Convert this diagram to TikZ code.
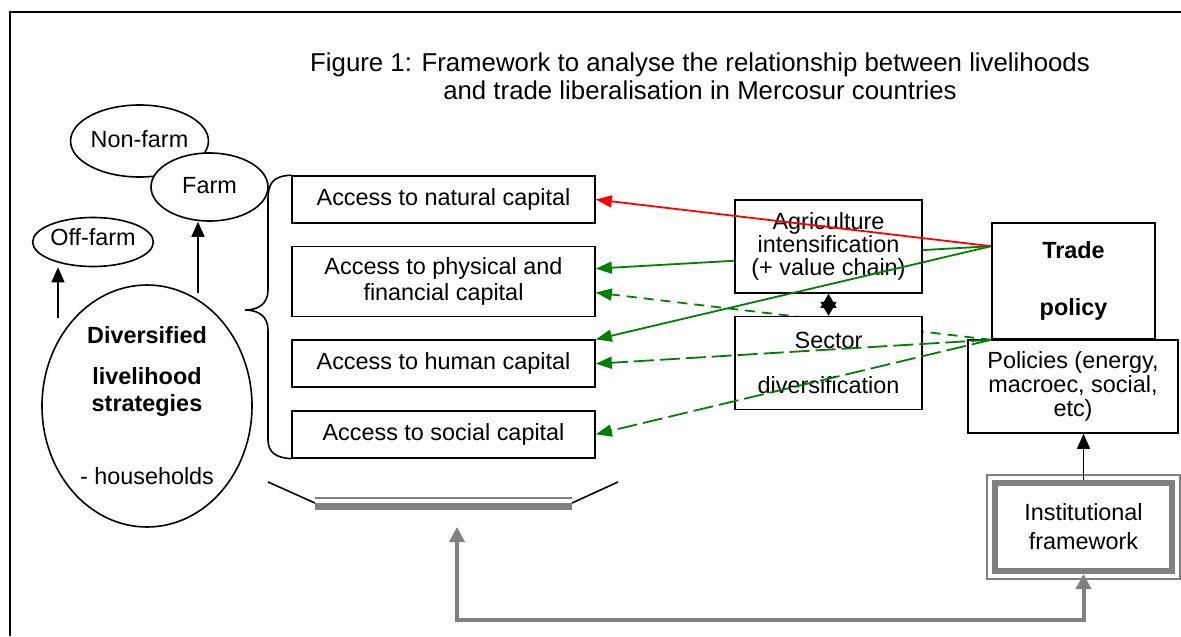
\documentclass[tikz,border=0pt]{standalone}
\usepackage{fontspec}
\setmainfont{Liberation Sans}
\usetikzlibrary{arrows.meta}
\usetikzlibrary{positioning}
\usetikzlibrary{shapes.geometric}
\usetikzlibrary{backgrounds}
\definecolor{leafgreen}{RGB}{0,128,0}
\definecolor{framegray}{RGB}{128,128,128}
\tikzset{x = 0.5pt, y = -0.5pt, font = \fontsize{11.7}{13}\selectfont,
  capbox/.style = {draw, line width = 0.8pt, fill = white, align = center,
    minimum width = 151.5pt, minimum height = 23.5pt, inner sep = 2pt},
  midbox/.style = {draw, line width = 0.8pt, fill = white, align = center,
    minimum width = 93.5pt, minimum height = 46.5pt, inner sep = 2pt},
  blob/.style = {ellipse, draw, line width = 0.8pt, fill = white, inner sep = 0pt},
  blk/.style = {line width = 0.8pt, -{Triangle[length = 7.5pt, width = 6.5pt]}},
  grn/.style = {leafgreen, line width = 0.9pt, -{Triangle[length = 8pt, width = 6pt]}},
  gry/.style = {framegray, line width = 2pt,
    {Triangle[length = 7.5pt, width = 7.5pt]}-{Triangle[length = 7.5pt, width = 7.5pt]}}}

\begin{document}
\begin{tikzpicture}
    \useasboundingbox (0,0) rectangle (1181,636);
    \draw [line width = 1pt] (10,636) -- (10,12) -- (1181,12);
    \node [align = center, font = \fontsize{12.9}{14}\selectfont] (title) at (700,76) {Figure 1: Framework to analyse the relationship between livelihoods\\and trade liberalisation in Mercosur countries};
    % livelihoods
    \node [blob, minimum width = 57.5pt, minimum height = 36pt] (nonf) at (139.5,141) {\raisebox{2pt}{Non-farm}};
    \node [blob, minimum width = 58.5pt, minimum height = 34pt] (farm) at (209.5,187) {\raisebox{2pt}{Farm}};
    \node [blob, minimum width = 58.5pt, minimum height = 24.5pt] (offf) at (93,242) {\raisebox{5pt}{Off-farm}};
    \node [blob, align = center, minimum width = 105pt, minimum height = 121pt] (divs) at (147,406)
      {\textbf{Diversified}\\[7.5pt]\textbf{livelihood}\\[0.5pt]\textbf{strategies}\\[23.5pt]- households};
    % capitals
    \node [capbox] (cnat) at (443.5,199.5) {Access to natural capital};
    \node [capbox, below = 11pt of cnat, minimum height = 35pt] (cphy) {Access to physical and\\financial capital};
    \node [capbox, below = 11pt of cphy] (chum) {Access to human capital};
    \node [capbox, below = 11pt of chum] (csoc) {Access to social capital};
    % channels and policy
    \node [midbox] (agri) at (828.5,246.5) {Agriculture\\[-1.5pt]intensification\\[-1.5pt](+ value chain)};
    \node [midbox, below = 11pt of agri] (sect) {Sector\\[9.7pt]diversification};
    \node [draw, line width = 0.8pt, fill = white, align = center, minimum width = 81.5pt,
      minimum height = 58pt] (trade) at (1073.5,281) {\raisebox{2pt}{\textbf{Trade}}\\[13.7pt]\textbf{policy}};
    \node [draw, line width = 0.8pt, fill = white, align = center, minimum width = 105pt,
      minimum height = 46.5pt] (pol) at (1073,386.5) {Policies (energy,\\[-1.2pt]macroec, social,\\[-1.2pt]etc)};
    \node [draw = framegray, line width = 3pt, align = center, minimum width = 88.5pt,
      minimum height = 44pt] (inst) at (1083.5,527) {Institutional\\[1.5pt]framework};
    \draw [framegray, line width = 0.6pt] ([shift = {(-2.5pt,-2.5pt)}]inst.south west) rectangle ([shift = {(2.5pt,2.5pt)}]inst.north east);
    % brace and tray
    \draw [line width = 0.8pt] (cnat.north west) .. controls (272,176) and (268,184) .. (268,200) -- (268,290)
      .. controls (268,304) and (258,310) .. (245,310) .. controls (258,310) and (268,316) .. (268,330)
      -- (268,440) .. controls (268,452) and (276,458) .. (csoc.south west);
    \coordinate (trayL) at (315,503);
    \coordinate (trayR) at (572,503);
    \draw [line width = 0.8pt] (268,482) -- (trayL);
    \draw [line width = 0.8pt] (trayR) -- (618,482);
    \draw [framegray, line width = 1pt] ([yshift = 2.5pt]trayL) -- ([yshift = 2.5pt]trayR);
    \draw [framegray, line width = 3.5pt] ([yshift = -1.5pt]trayL) -- ([yshift = -1.5pt]trayR);
    % paths
    \coordinate (offtail) at (58,318);
    \coordinate (farmtail) at (198,293);
    \coordinate (trayfoot) at (457,527);
    \draw [blk] (offtail) -- (offtail |- offf.south);
    \draw [blk] (farmtail) -- (farmtail |- farm.south);
    \begin{scope}[on background layer]
      \draw [grn] ([yshift = -12pt]trade.north west) -- ([yshift = 6.5pt]cphy.east);
      \draw [grn, dash pattern = on 5pt off 3.5pt] (trade.south west) -- ([yshift = -5.5pt]cphy.east);
    \end{scope}
    \draw [red, line width = 0.9pt, -{Triangle[length = 8pt, width = 6pt]}] ([yshift = -12pt]trade.north west) -- (cnat.east);
    \draw [grn] ([yshift = -12pt]trade.north west) -- (chum.north east);
    \draw [grn, dash pattern = on 10pt off 3pt] (trade.south west) -- (chum.east);
    \draw [grn, dash pattern = on 10pt off 3pt] (trade.south west) -- (csoc.east);
    \draw [line width = 0.8pt, {Triangle[length = 7pt, width = 8pt]}-{Triangle[length = 7pt, width = 8pt]}] (agri.south) -- (sect.north);
    \draw [blk] (inst.north) -- (inst.north |- pol.south);
    \draw [gry] (trayfoot) -- ++(0,93) -| (inst.south);
\end{tikzpicture}
\end{document}
